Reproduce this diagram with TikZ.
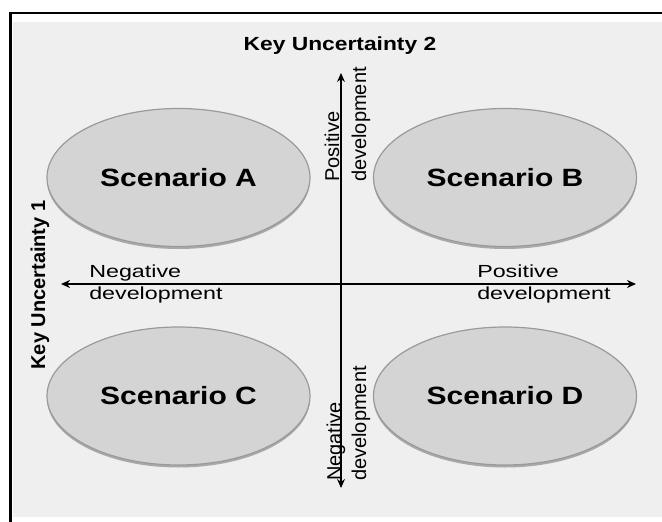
\documentclass[tikz,border=0pt]{standalone}
\usepackage{fontspec}
\setmainfont{Liberation Sans}
\usetikzlibrary{arrows.meta,shapes.geometric,shadows}
\definecolor{bggray}{HTML}{EFEFEF}
\definecolor{ellfill}{HTML}{D4D4D4}
\definecolor{elldraw}{HTML}{9A9A9A}
\begin{document}
\begin{tikzpicture}[x=1pt,y=-1pt,
  scen/.style={ellipse, fill=ellfill, draw=elldraw, line width=1.2pt,
    minimum width=263pt, minimum height=138pt, inner sep=0pt,
    font=\fontsize{25}{28}\selectfont\bfseries,
    drop shadow={shadow xshift=0pt, shadow yshift=-2.5pt, fill=gray!90, opacity=0.7}},
  hlab/.style={font=\fontsize{17.5}{20}\selectfont, xscale=1.33, anchor=base west, inner sep=0pt},
  vlab/.style={font=\fontsize{20}{22}\selectfont, rotate=90, anchor=base west, inner sep=0pt},
  axis/.style={{Stealth[length=9pt,width=8pt]}-{Stealth[length=9pt,width=8pt]}, black},
  title/.style={font=\fontsize{19}{22}\selectfont\bfseries, inner sep=0pt}]
\useasboundingbox (0,0) rectangle (662,522);
\fill[white] (0,0) rectangle (662,522);
\fill[bggray] (13,22) rectangle (662,517);
\draw[line width=2.5pt] (10.5,522) -- (10.5,13) -- (662,13);

\node[scen] (A) at (178.5,177.5) {\scalebox{1.2}[1]{Scenario A}};
\node[scen] (B) at (505,177.5) {\scalebox{1.2}[1]{Scenario B}};
\node[scen] (C) at (178.5,396) {\scalebox{1.2}[1]{Scenario C}};
\node[scen] (D) at (505,396) {\scalebox{1.2}[1]{Scenario D}};

\coordinate (top) at (341,73);
\coordinate (bot) at (341,488);
\coordinate (lft) at (61,284);
\coordinate (rgt) at (636,284);
\draw[axis, line width=1.1pt] (bot) -- (top);
\draw[axis, line width=2pt] (lft) -- (rgt);

\node[title, xscale=1.2] (ku2) at (340,46) {Key Uncertainty 2};
\node[title, font=\fontsize{20}{22}\selectfont\bfseries, rotate=90] (ku1) at (40,285) {Key Uncertainty 1};

\node[hlab] (negl) at (89,277) {Negative};
\node[hlab] (devl) at (89,299) {development};
\node[hlab] (posr) at (477,277) {Positive};
\node[hlab] (devr) at (477,299) {development};

\node[vlab] (post) at (339,182) {Positive};
\node[vlab] (devt) at (366,182) {development};
\node[vlab] (negb) at (341,481) {Negative};
\node[vlab] (devb) at (366,481) {development};
\end{tikzpicture}
\end{document}
